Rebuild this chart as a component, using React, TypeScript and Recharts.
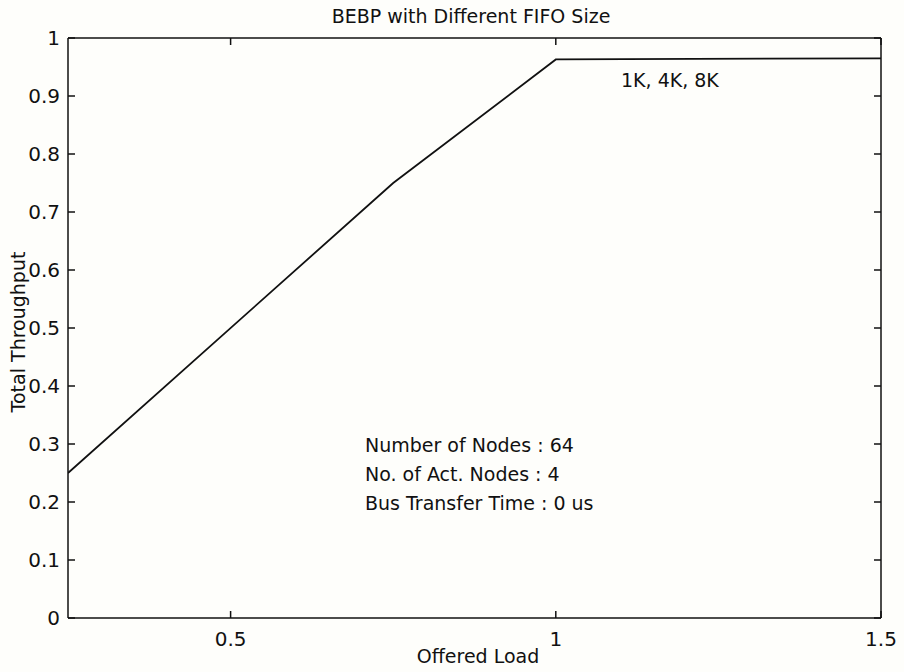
import { LineChart, Line, XAxis, YAxis, ReferenceLine } from 'recharts'

// offered load vs. total throughput (1K, 4K, 8K FIFO curves coincide)
const offeredLoad = [0.25, 0.75, 1.0, 1.5]
const throughput = [0.25, 0.75, 0.963, 0.965]

const xTicks = [0.5, 1, 1.5]
const yTicks = [0, 0.1, 0.2, 0.3, 0.4, 0.5, 0.6, 0.7, 0.8, 0.9, 1]

const notes = ['Number of Nodes : 64', 'No. of Act. Nodes : 4', 'Bus Transfer Time : 0 us']

const data = offeredLoad.map((x, i) => ({ x, y: throughput[i] }))

const X_DOMAIN = [0.25, 1.5]
const Y_DOMAIN = [0, 1]
// inward tick length, in data units (~7px each way)
const X_TICK = 0.0108
const Y_TICK = 0.0121

const FONT = '"DejaVu Sans", "Liberation Sans", Arial, sans-serif'
const INK = '#111'

export default function App() {
  const tickLine = { stroke: INK, strokeWidth: 1.5 }

  return (
    <div
      style={{
        position: 'absolute',
        left: 0,
        top: 0,
        width: 904,
        height: 672,
        background: '#fefefb',
        fontFamily: FONT
      }}
    >
      <LineChart
        width={904}
        height={672}
        data={data}
        margin={{ top: 37, right: 22, bottom: 0, left: 0 }}
      >
        <XAxis
          xAxisId="bottom"
          dataKey="x"
          type="number"
          domain={X_DOMAIN}
          ticks={xTicks}
          allowDataOverflow
          height={54}
          stroke={INK}
          strokeWidth={1.5}
          tickLine={false}
          tickSize={0}
          tickMargin={14}
          tick={{ fill: INK, fontSize: 20, fontFamily: FONT }}
        />
        <XAxis
          xAxisId="top"
          dataKey="x"
          type="number"
          orientation="top"
          domain={X_DOMAIN}
          ticks={xTicks}
          allowDataOverflow
          height={1}
          stroke={INK}
          strokeWidth={1.5}
          tickLine={false}
          tick={false}
        />
        <YAxis
          yAxisId="left"
          type="number"
          domain={Y_DOMAIN}
          ticks={yTicks}
          width={68}
          stroke={INK}
          strokeWidth={1.5}
          tickLine={false}
          tickSize={0}
          tickMargin={8}
          tick={{ fill: INK, fontSize: 20, fontFamily: FONT }}
        />
        <YAxis
          yAxisId="right"
          orientation="right"
          type="number"
          domain={Y_DOMAIN}
          ticks={yTicks}
          width={1}
          stroke={INK}
          strokeWidth={1.5}
          tickLine={false}
          tick={false}
        />

        {/* matlab-style inward ticks on all four sides */}
        {xTicks.map((t) => (
          <ReferenceLine
            key={`xb-${t}`}
            xAxisId="bottom"
            yAxisId="left"
            segment={[{ x: t, y: 0 }, { x: t, y: Y_TICK }]}
            {...tickLine}
          />
        ))}
        {xTicks.map((t) => (
          <ReferenceLine
            key={`xt-${t}`}
            xAxisId="bottom"
            yAxisId="left"
            segment={[{ x: t, y: 1 }, { x: t, y: 1 - Y_TICK }]}
            {...tickLine}
          />
        ))}
        {yTicks.map((t) => (
          <ReferenceLine
            key={`yl-${t}`}
            xAxisId="bottom"
            yAxisId="left"
            segment={[{ x: 0.25, y: t }, { x: 0.25 + X_TICK, y: t }]}
            {...tickLine}
          />
        ))}
        {yTicks.map((t) => (
          <ReferenceLine
            key={`yr-${t}`}
            xAxisId="bottom"
            yAxisId="left"
            segment={[{ x: 1.5, y: t }, { x: 1.5 - X_TICK, y: t }]}
            {...tickLine}
          />
        ))}

        <Line
          xAxisId="bottom"
          yAxisId="left"
          type="linear"
          dataKey="y"
          stroke={INK}
          strokeWidth={1.8}
          dot={false}
          isAnimationActive={false}
        />
      </LineChart>

      <svg
        width={904}
        height={672}
        style={{ position: 'absolute', left: 0, top: 0, pointerEvents: 'none' }}
        fontFamily={FONT}
        fill={INK}
      >
        <text x={471} y={23} fontSize={19} textAnchor="middle">
          BEBP with Different FIFO Size
        </text>
        <text x={478} y={663} fontSize={19} textAnchor="middle">
          Offered Load
        </text>
        <text x={25} y={332} fontSize={19} textAnchor="middle" transform="rotate(-90 25 332)">
          Total Throughput
        </text>
        <text x={621} y={87} fontSize={19}>
          1K, 4K, 8K
        </text>
        {notes.map((line, i) => (
          <text key={line} x={365} y={452 + i * 29} fontSize={19}>
            {line}
          </text>
        ))}
      </svg>
    </div>
  )
}
